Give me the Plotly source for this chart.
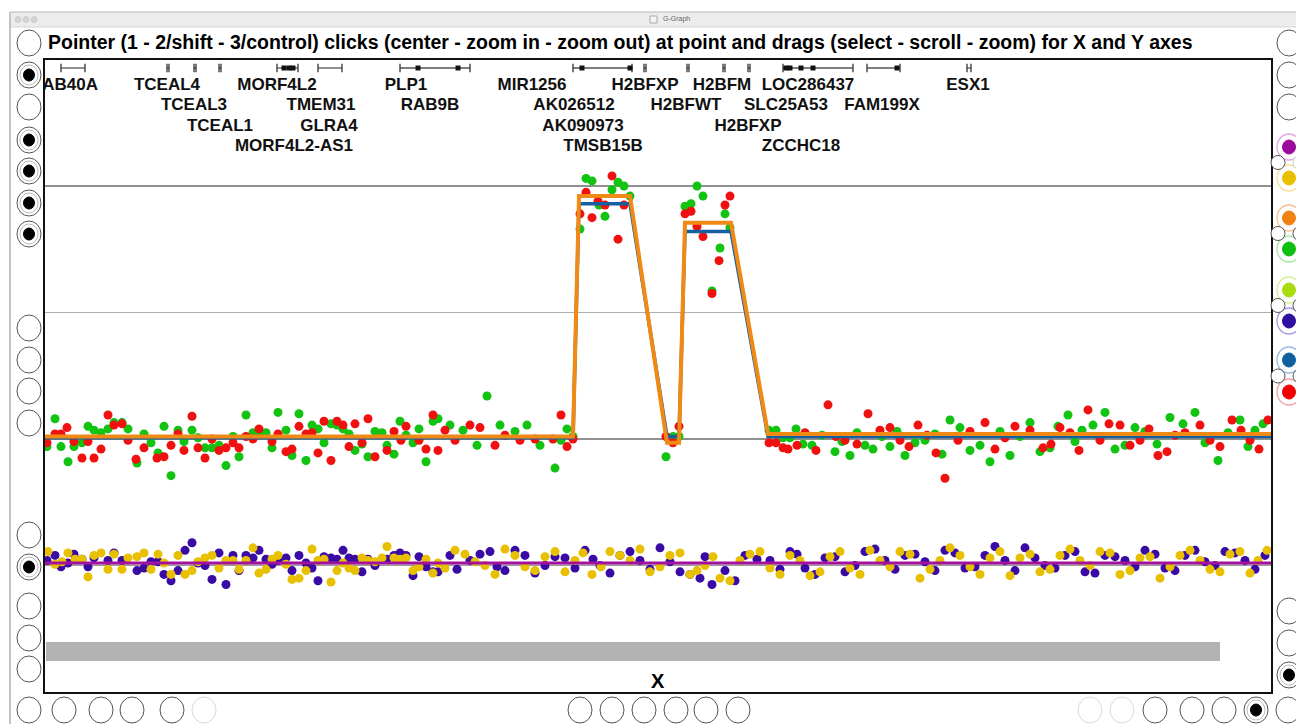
import plotly.graph_objects as go

# ---------------- data ----------------
# top panel: log-ratio values (two samples) at probe positions
red_pos = [2, 10, 16, 22, 29, 37, 43, 49, 56, 63, 69, 77, 83, 91, 99, 112, 119, 126, 133, 139,
           147, 153, 160, 167, 174, 181, 188, 194, 201, 208, 214, 227, 233, 241, 247, 254, 261, 267, 273, 279,
           286, 292, 298, 304, 310, 317, 323, 330, 342, 349, 356, 361, 374, 381, 388, 393,
           400, 410, 425, 435, 450, 460, 475, 490, 508, 516, 522, 528,
           535, 541, 547, 553, 560, 567, 573, 579,
           621, 628, 634,
           640, 646, 652, 658, 667, 674, 680, 685,
           724, 731, 738, 743, 760, 783, 800, 823, 835, 855, 873, 900, 913, 940, 960, 985, 998, 1015,
           1043, 1055, 1075, 1095, 1113, 1130, 1155, 1165, 1187, 1205, 1223,
           752, 771, 791, 812, 845, 864, 882, 891, 925, 950, 970, 1006, 1025, 1034, 1064, 1085, 1104,
           1122, 1140, 1175, 1196, 1214]
red_val = [-0.03, 0.04, 0.04, 0.09, -0.02, -0.15, -0.02, -0.15, -0.08, 0.19, 0.11, 0.12, -0.01, -0.16, -0.07, -0.15, -0.14, -0.05, 0.04, -0.09,
           0.18, -0.07, -0.15, 0.00, -0.09, -0.07, -0.03, -0.07, 0.02, 0.00, 0.08, -0.02, 0.04, -0.10, -0.08, 0.10, 0.04, 0.05, -0.11, 0.14,
           -0.17, 0.14, 0.11, -0.06, 0.12, -0.03, 0.16, -0.14, -0.09, 0.06, -0.01, 0.10, -0.01, -0.08, 0.19, -0.09,
           0.07, -0.01, 0.11, 0.09, -0.05, 0.03, -0.01, 0.00, 0.00, 0.19, -0.06, 0.00,
           1.78, 1.95, 1.75, 1.88, 1.85, 2.08, 1.58, 1.85,
           0.02, -0.03, 0.10,
           1.78, 1.80, 1.68, 1.60, 1.15, 1.41, 1.85, 1.92,
           -0.03, -0.03, -0.07, -0.08, 0.05, 0.27, -0.01, 0.20, 0.07, -0.01, 0.11, -0.31, -0.01, 0.13, 0.01, 0.07, -0.07, 0.09,
           0.23, -0.01, 0.11, -0.01, -0.13, 0.03, 0.11, -0.01, 0.15, -0.01, 0.15,
           -0.05, -0.09, 0.02, -0.04, 0.09, -0.06, 0.03, -0.11, 0.06, -0.08, 0.10, -0.04, 0.05, -0.09, 0.12, -0.05, 0.08,
           -0.10, 0.05, -0.06, 0.07, -0.08]

green_pos = [2, 10, 16, 23, 29, 37, 43, 49, 56, 63, 69, 77, 83, 92, 99, 106, 113, 119, 126, 133,
             139, 147, 153, 160, 167, 174, 181, 188, 194, 201, 208, 214, 221, 227, 233, 241, 247, 254, 261, 267,
             273, 279, 286, 292, 298, 304, 310, 317, 323, 330, 337, 342, 349, 355, 361, 368, 374, 381, 388, 393,
             405, 418, 432, 442, 455, 470, 482, 495, 510, 516, 522, 528,
             535, 541, 547, 554, 560, 567, 573, 579, 585,
             621, 628, 634,
             640, 646, 652, 658, 667, 675, 680, 685,
             724, 731, 738, 745, 751, 767, 790, 805, 820, 845, 860, 880, 905, 925, 945, 965, 985, 1005,
             1023, 1037, 1060, 1080, 1100, 1125, 1150, 1173, 1195, 1210,
             758, 777, 797, 812, 828, 837, 852, 870, 890, 897, 915, 935, 955, 975, 995, 1013, 1030,
             1048, 1070, 1090, 1112, 1138, 1160, 1183, 1203, 1218]
green_val = [-0.06, 0.16, -0.06, -0.18, -0.06, -0.03, 0.10, 0.07, 0.05, 0.08, 0.13, 0.13, 0.08, -0.19, 0.04, -0.03, -0.11, 0.10, -0.29, 0.07,
             -0.02, 0.07, 0.01, -0.07, -0.07, -0.05, -0.21, 0.02, -0.14, 0.19, 0.05, 0.05, 0.05, -0.07, 0.21, 0.07, -0.13, 0.20, -0.17, 0.11,
             0.08, -0.03, 0.12, 0.11, 0.08, 0.04, -0.09, -0.04, -0.14, 0.06, 0.05, -0.05, -0.12, 0.14, 0.03, -0.03, 0.08, -0.18, 0.14, 0.16,
             0.11, 0.07, -0.05, 0.34, 0.11, 0.06, 0.11, -0.05, -0.23, -0.01, 0.08, 0.02,
             1.66, 2.06, 2.04, 1.85, 1.76, 1.97, 2.03, 2.00, 1.92,
             -0.14, 0.02, 0.02,
             1.84, 1.86, 2.00, 1.92, 1.17, 1.51, 1.78, 1.67,
             0.07, 0.07, 0.01, 0.01, 0.08, -0.05, -0.10, -0.13, -0.05, -0.06, -0.13, -0.01, 0.15, -0.09, -0.18, -0.13, 0.13, -0.07,
             0.19, 0.07, 0.21, -0.05, 0.06, 0.17, 0.21, -0.17, 0.15, 0.07,
             -0.04, 0.03, -0.02, 0.05, -0.08, 0.02, 0.06, -0.03, 0.04, -0.12, 0.09, -0.05, 0.06, 0.02, -0.10, 0.10, -0.02,
             0.11, -0.08, 0.09, -0.04, 0.12, -0.03, 0.05, -0.06, 0.12]

# segmentation lines
seg_pos = [0, 528, 534, 585, 622, 634, 640, 686, 723, 1226]
orange_val = [0.02, 0.02, 1.92, 1.92, -0.03, -0.03, 1.71, 1.71, 0.04, 0.04]
blue_val = [0.01, 0.01, 1.86, 1.86, 0.02, 0.02, 1.64, 1.64, 0.02, 0.02]

# bottom panel values
purple_pos = [2, 10, 16, 23, 29, 37, 43, 49, 63, 69, 77, 92, 99, 106, 113, 119, 126, 133, 140, 147,
              153, 160, 167, 174, 181, 188, 194, 201, 208, 214, 221, 227, 233, 241, 247, 254, 261, 267, 273, 279,
              286, 292, 298, 304, 310, 317, 323, 330, 342, 349, 355, 361, 368, 374, 381, 388, 393,
              405, 425, 445, 460, 480, 500, 520, 540, 555, 575, 595, 615, 635, 655, 667, 680, 700, 725,
              745, 760, 780, 800, 820, 840, 860, 880, 900, 920, 940, 960, 980, 1000, 1020, 1040, 1060, 1080,
              1100, 1120, 1140, 1160, 1180, 1200, 1220,
              412, 435, 452, 470, 490, 510, 530, 548, 565, 585, 605, 625, 645, 660, 690, 712, 735, 752,
              770, 790, 810, 830, 850, 870, 890, 910, 930, 950, 970, 990, 1010, 1030, 1050, 1070, 1090,
              1110, 1130, 1150, 1170, 1190, 1210]
purple_val = [0.02, 0.06, -0.03, 0.00, 0.07, 0.03, -0.03, 0.04, 0.02, 0.08, 0.02, -0.06, -0.04, 0.01, 0.01, -0.09, -0.14, -0.06, 0.10, 0.16,
              0.00, -0.02, -0.13, 0.08, -0.17, 0.06, -0.06, 0.06, 0.04, 0.10, 0.03, -0.01, 0.02, 0.04, -0.06, 0.06, 0.00, -0.04, -0.14, 0.05,
              0.04, 0.03, 0.10, 0.04, 0.03, -0.07, 0.03, -0.02, 0.03, 0.06, 0.08, 0.06, -0.10, 0.05, -0.03, -0.07, -0.07,
              0.06, 0.02, 0.09, -0.06, 0.06, -0.02, 0.04, 0.10, -0.02, 0.06, 0.02, 0.12, -0.07, -0.12, -0.17, -0.06, 0.06, 0.02,
              0.09, -0.04, 0.04, -0.07, 0.09, 0.02, 0.06, 0.01, 0.10, -0.04, 0.06, 0.02, 0.12, -0.02, 0.06, -0.07, 0.06, 0.02,
              0.10, -0.04, 0.06, 0.01, 0.09, 0.02, 0.06,
              -0.05, 0.07, -0.03, 0.10, -0.08, 0.05, -0.04, 0.03, -0.08, 0.09, -0.05, 0.01, -0.09, 0.05, -0.14, 0.03, -0.05, 0.07,
              -0.09, 0.05, -0.02, 0.11, -0.05, 0.07, -0.06, 0.08, -0.03, 0.13, -0.06, 0.04, -0.04, 0.09, -0.08, 0.05, -0.03,
              0.07, -0.06, 0.10, -0.02, 0.08, -0.05]

yellow_pos = [3, 10, 17, 23, 30, 37, 43, 49, 56, 63, 69, 77, 83, 92, 99, 106, 113, 119, 126, 133,
              140, 147, 153, 160, 167, 174, 181, 188, 194, 201, 208, 214, 221, 227, 233, 241, 247, 254, 261, 267,
              273, 279, 286, 292, 298, 304, 310, 317, 323, 330, 337, 342, 349, 355, 361, 368, 374, 381, 388, 393,
              410, 430, 450, 470, 490, 510, 530, 547, 565, 585, 605, 625, 645, 660, 675, 695, 715, 735, 755, 775,
              795, 815, 835, 855, 875, 895, 915, 935, 955, 975, 995, 1015, 1035, 1055, 1075, 1095, 1115, 1135,
              1155, 1175, 1195, 1213,
              400, 420, 440, 460, 480, 500, 520, 538, 556, 575, 595, 615, 635, 652, 668, 685, 705, 725,
              745, 765, 785, 805, 825, 845, 865, 885, 905, 925, 945, 965, 985, 1005, 1025, 1045, 1065,
              1085, 1105, 1125, 1145, 1165, 1185, 1205, 1222]
yellow_val = [0.09, -0.01, 0.01, 0.08, 0.03, 0.03, -0.11, 0.06, 0.08, -0.05, 0.07, -0.05, 0.04, 0.05, 0.08, -0.05, 0.07, 0.00, -0.09, 0.06,
              -0.09, -0.06, 0.01, 0.04, 0.06, -0.04, 0.02, 0.02, -0.05, 0.02, 0.12, -0.08, -0.05, 0.03, 0.06, -0.01, -0.13, -0.12, -0.06, 0.11,
              0.02, 0.03, -0.15, -0.06, 0.00, -0.04, -0.06, 0.04, 0.02, 0.01, 0.04, 0.13, 0.04, 0.03, 0.04, -0.06, -0.03, 0.03, -0.08, 0.00,
              0.10, 0.01, -0.09, 0.06, -0.06, 0.09, 0.02, -0.09, 0.09, 0.02, -0.07, 0.06, -0.09, -0.02, -0.12, 0.02, 0.09, -0.09, 0.02, -0.07,
              0.09, -0.09, 0.02, 0.09, -0.12, 0.02, 0.06, -0.09, 0.09, 0.04, -0.07, 0.06, 0.02, 0.09, -0.09, 0.04, -0.12, 0.06,
              0.02, -0.07, 0.09, 0.02,
              -0.04, 0.07, -0.02, 0.11, -0.03, 0.05, -0.07, 0.08, -0.03, 0.06, 0.11, -0.03, 0.08, -0.06, 0.05, -0.14, 0.07, -0.04,
              0.06, -0.10, 0.05, -0.04, 0.10, -0.03, 0.07, -0.05, 0.12, -0.03, 0.04, -0.10, 0.07, -0.05, 0.11, -0.02, 0.08,
              -0.06, 0.05, -0.03, 0.10, -0.05, 0.07, -0.08, 0.10]

# genes
gene_names = ["RAB40A", "TCEAL4", "MORF4L2", "PLP1", "MIR1256", "H2BFXP", "H2BFM", "LOC286437", "ESX1",
              "TCEAL3", "TMEM31", "RAB9B", "AK026512", "H2BFWT", "SLC25A53", "FAM199X",
              "TCEAL1", "GLRA4", "AK090973", "H2BFXP",
              "MORF4L2-AS1", "TMSB15B", "ZCCHC18"]
gene_label_pos = [19, 122, 232, 361, 487, 600, 677, 763, 923,
                  149, 276, 385, 529, 641, 741, 837,
                  175, 284, 538, 703,
                  249, 558, 756]
gene_row = [0, 0, 0, 0, 0, 0, 0, 0, 0,
            1, 1, 1, 1, 1, 1, 1,
            2, 2, 2, 2,
            3, 3, 3]
gene_start = [16, 122, 149, 174, 232, 273, 355, 528, 599, 642, 678, 703, 738, 822, 922]
gene_end = [40, 124, 151, 176, 253, 297, 425, 587, 601, 644, 680, 705, 808, 855, 926]
exon_pos = [373, 413, 537, 585, 741, 745, 756, 768, 852, 239, 244, 248]

chrom_bar = [1, 1175]

title_text = ("Pointer (1 - 2/shift - 3/control) clicks (center - zoom in - zoom out) at point "
              "and drags (select - scroll - zoom) for X and Y axes")

# ---------------- layout helpers ----------------
SW, SH = 1304, 724          # screen size
OFF = 8                     # default page body margin
PL, PR, PT, PB = 45, 1271, 60, 692   # plot frame in screen px
UNIT = 126.5                # px per y unit
BASE_TOP = 439
BASE_BOT = 563
y_rng = [-(PB - BASE_TOP) / UNIT, (BASE_TOP - PT) / UNIT]
y2_rng = [-(PB - BASE_BOT) / UNIT, (BASE_BOT - PT) / UNIT]


def pp(x, y):
    return (x - PL) / (PR - PL), (PB - y) / (PB - PT)


def yv(py):
    return (BASE_TOP - py) / UNIT


shapes = []


def ellipse(cx, cy, rx, ry, line_color, fill, lw=1):
    x0, y0 = pp(cx - rx, cy + ry)
    x1, y1 = pp(cx + rx, cy - ry)
    shapes.append(dict(type="circle", xref="paper", yref="paper", x0=x0, y0=y0, x1=x1, y1=y1,
                       line=dict(color=line_color, width=lw), fillcolor=fill, layer="above"))


def radio(cx, cy, on=False, light=False):
    ellipse(cx, cy, 12, 13, "#d8d8d8" if light else "#555555", "white", 1)
    if on:
        ellipse(cx, cy, 9, 10, "#aaaaaa", "white", 0.8)
        ellipse(cx, cy, 5.5, 6, "black", "black", 1)


def colored(cx, cy, c, ring):
    ellipse(cx, cy, 12, 13, ring, "white", 1.3)
    ellipse(cx, cy, 6.5, 7, c, c, 1)


fig = go.Figure()

# window chrome
x0, y0 = pp(10, 27); x1, y1 = pp(1310, 12)
shapes.append(dict(type="rect", xref="paper", yref="paper", x0=x0, y0=y0, x1=x1, y1=y1,
                   fillcolor="#ececec", line=dict(width=0), layer="below"))
for yy, col in [(12, "#b8b8b8"), (27, "#d6d6d6")]:
    a, b = pp(10, yy); c, d = pp(1310, yy)
    shapes.append(dict(type="line", xref="paper", yref="paper", x0=a, y0=b, x1=c, y1=d,
                       line=dict(color=col, width=1)))
a, b = pp(10, 12); c, d = pp(10, 730)
shapes.append(dict(type="line", xref="paper", yref="paper", x0=a, y0=b, x1=c, y1=d,
                   line=dict(color="#c4c4c4", width=2)))
for cx in [18, 26, 34]:
    ellipse(cx, 19.5, 3, 3, "#c8c8c8", "#d4d4d4", 0.8)
ix0, iy0 = pp(650, 23); ix1, iy1 = pp(657, 16)
shapes.append(dict(type="rect", xref="paper", yref="paper", x0=ix0, y0=iy0, x1=ix1, y1=iy1,
                   fillcolor="#f4f4f4", line=dict(color="#999999", width=0.8)))

# reference lines
for yval, col in [(2.0, "#222222"), (1.0, "#b0b0b0"), (0.0, "#222222")]:
    shapes.append(dict(type="line", xref="paper", yref="y", x0=0, x1=1, y0=yval, y1=yval,
                       line=dict(color=col, width=1.2), layer="below"))
shapes.append(dict(type="line", xref="paper", yref="y2", x0=0, x1=1, y0=-0.017, y1=-0.017,
                   line=dict(color="#9a9a9a", width=1.5), layer="below"))
shapes.append(dict(type="line", xref="paper", yref="y2", x0=0, x1=1, y0=0, y1=0,
                   line=dict(color="#a3129c", width=3), layer="above"))
# chromosome bar
shapes.append(dict(type="rect", xref="x", yref="y", x0=chrom_bar[0], x1=chrom_bar[1],
                   y0=yv(661), y1=yv(642), fillcolor="#b3b3b3", line=dict(width=0), layer="below"))

# gene structures
gx, gy = [], []
for s, e in zip(gene_start, gene_end):
    gx += [s, e, None]
    gy += [yv(68), yv(68), None]
fig.add_trace(go.Scatter(x=gx, y=gy, mode="lines", line=dict(color="#555555", width=1.3),
                         hoverinfo="skip", showlegend=False))
fig.add_trace(go.Scatter(x=gene_start + gene_end, y=[yv(68)] * (2 * len(gene_start)), mode="markers",
                         marker=dict(symbol="line-ns", size=6, line=dict(color="#333333", width=1.3)),
                         hoverinfo="skip", showlegend=False))
fig.add_trace(go.Scatter(x=exon_pos, y=[yv(68)] * len(exon_pos), mode="markers",
                         marker=dict(symbol="square", size=5, color="#111111"),
                         hoverinfo="skip", showlegend=False))
row_px = [86, 106, 127, 147]
fig.add_trace(go.Scatter(x=gene_label_pos, y=[yv(row_px[r]) for r in gene_row], mode="text",
                         text=gene_names, textposition="middle center", cliponaxis=True,
                         textfont=dict(family="Liberation Sans, Arial", size=17, color="#111111", weight="bold"),
                         hoverinfo="skip", showlegend=False))

# data points
fig.add_trace(go.Scatter(x=green_pos, y=green_val, mode="markers",
                         marker=dict(color="#12c312", size=9), showlegend=False))
fig.add_trace(go.Scatter(x=red_pos, y=red_val, mode="markers",
                         marker=dict(color="#f01010", size=9), showlegend=False))
fig.add_trace(go.Scatter(x=seg_pos, y=blue_val, mode="lines",
                         line=dict(color="#1560a0", width=3.5), showlegend=False))
fig.add_trace(go.Scatter(x=seg_pos, y=orange_val, mode="lines",
                         line=dict(color="#f08a14", width=4), showlegend=False))
fig.add_trace(go.Scatter(x=purple_pos, y=purple_val, mode="markers", yaxis="y2",
                         marker=dict(color="#3a0aa5", size=9), showlegend=False))
fig.add_trace(go.Scatter(x=yellow_pos, y=yellow_val, mode="markers", yaxis="y2",
                         marker=dict(color="#e8c000", size=9), showlegend=False))

# radio buttons
left_col = [(43, False), (75, True), (107, False), (140, True), (171, True), (203, True), (234, True),
            (328, False), (360, False), (391, False), (423, False), (535, False), (567, True),
            (606, False), (638, False), (669, False)]
for cy, on in left_col:
    radio(29, cy, on)
bottom_row = [(29, False, False), (64, False, False), (101, False, False), (132, False, False),
              (172, False, False), (204, False, True),
              (580, False, False), (612, False, False), (644, False, False), (676, False, False),
              (706, False, False), (738, False, False),
              (1090, False, True), (1122, False, True), (1155, False, False), (1192, False, False),
              (1224, False, False), (1256, True, False), (1288, False, False)]
for cx, on, light in bottom_row:
    radio(cx, 710, on, light)
for cy, on in [(43, False), (75, False), (107, False), (611, False), (643, False), (675, True)]:
    radio(1289, cy, on)
pairs = [(147, "#9c0a9c", "#e2a6e2"), (178, "#e8c000", "#f3e09a"), (218, "#f08214", "#f6c08e"),
         (249, "#10c010", "#a6e6a6"), (290, "#a8dc10", "#d6ee9a"), (321, "#3010a0", "#a89ae0"),
         (360, "#1060a0", "#98bce0"), (392, "#f00000", "#f6a4a4")]
for cy, c, ring in pairs:
    colored(1289, cy, c, ring)
for cy, lights in [(162.5, (False, True)), (233.5, (False, False)), (305.5, (False, False)), (376, (False, False))]:
    ellipse(1278, cy, 7, 7, "#cccccc" if lights[0] else "#555555", "white", 1)
    ellipse(1300, cy, 7, 7, "#cccccc" if lights[1] else "#555555", "white", 1)

annotations = []
tx, ty = pp(46, 42)
annotations.append(dict(text=title_text, x=tx, y=ty, xref="paper", yref="paper", xanchor="left",
                        yanchor="middle", showarrow=False,
                        font=dict(family="Liberation Sans, Arial", size=19.5, color="black", weight="bold")))
tx, ty = pp(658, 681)
annotations.append(dict(text="X", x=tx, y=ty, xref="paper", yref="paper", showarrow=False,
                        xanchor="center", yanchor="middle",
                        font=dict(family="Liberation Sans, Arial", size=20, color="black", weight="bold")))
tx, ty = pp(661, 19.5)
annotations.append(dict(text="G-Graph", x=tx, y=ty, xref="paper", yref="paper", showarrow=False,
                        xanchor="left", yanchor="middle",
                        font=dict(family="Liberation Sans, Arial", size=7, color="#666666")))

fig.update_layout(
    width=SW - OFF, height=SH - OFF,
    margin=dict(l=PL - OFF, r=SW - PR, t=PT - OFF, b=SH - PB),
    paper_bgcolor="white", plot_bgcolor="white",
    xaxis=dict(range=[0, PR - PL], showgrid=False, zeroline=False, showticklabels=False, ticks="",
               showline=True, mirror=True, linecolor="#111111", linewidth=2),
    yaxis=dict(range=y_rng, showgrid=False, zeroline=False, showticklabels=False, ticks="",
               showline=True, mirror=True, linecolor="#111111", linewidth=2),
    yaxis2=dict(range=y2_rng, overlaying="y", showgrid=False, zeroline=False, showticklabels=False,
                ticks="", showline=False),
    shapes=shapes, annotations=annotations, showlegend=False,
)

fig.write_html("out.html")
